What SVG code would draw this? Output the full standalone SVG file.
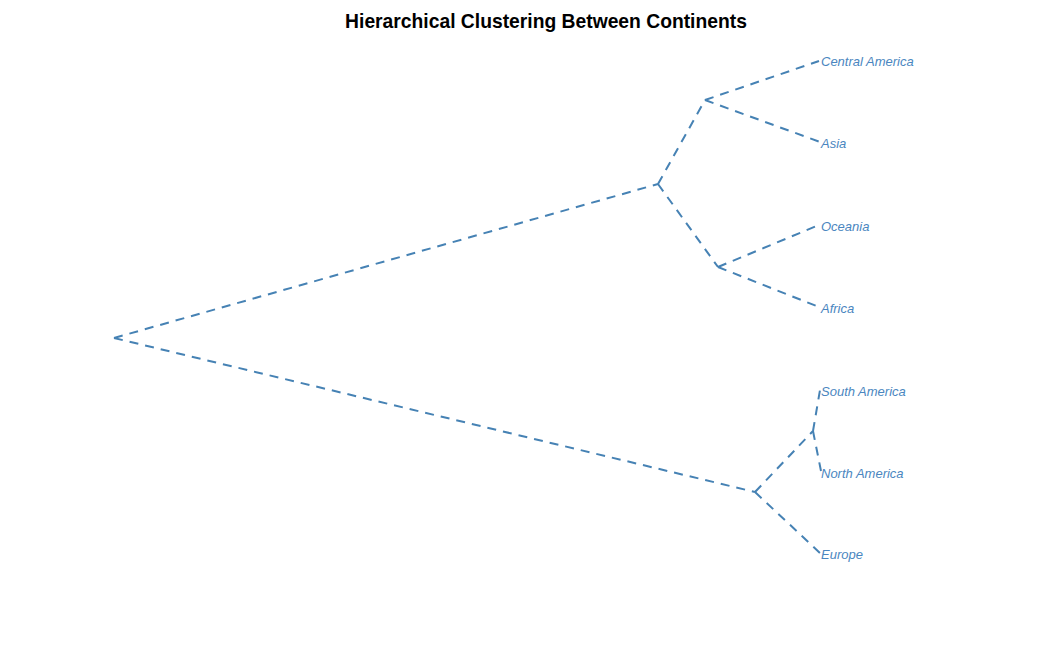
<svg xmlns="http://www.w3.org/2000/svg" width="1056" height="672" viewBox="0 0 1056 672">
<style>
.edge{fill:none;stroke:#4682B4;stroke-width:2;stroke-dasharray:9 7}
.lbl{font-family:"Liberation Sans",Arial,sans-serif;font-size:13px;font-style:italic;fill:#4a86c0}
.title{font-family:"Liberation Sans",Arial,sans-serif;font-size:19.3px;font-weight:bold;fill:#000}
</style>
<rect width="1056" height="672" fill="#fff"/>
<text class="title" x="546" y="27.5" text-anchor="middle">Hierarchical Clustering Between Continents</text>
<g id="connectors">
<line class="edge" x1="114" y1="338" x2="658" y2="184"/>
<line class="edge" x1="114" y1="338" x2="755" y2="492"/>
<line class="edge" x1="658" y1="184" x2="705" y2="100"/>
<line class="edge" x1="658" y1="184" x2="718" y2="267"/>
<line class="edge" x1="705" y1="100" x2="819" y2="61"/>
<line class="edge" x1="705" y1="100" x2="820" y2="142"/>
<line class="edge" x1="718" y1="267" x2="819" y2="225"/>
<line class="edge" x1="718" y1="267" x2="819" y2="307"/>
<line class="edge" x1="755" y1="492" x2="813" y2="431"/>
<line class="edge" x1="755" y1="492" x2="820" y2="553"/>
<line class="edge" x1="813" y1="431" x2="820" y2="390"/>
<line class="edge" x1="813" y1="431" x2="821" y2="471"/>
</g>
<g id="node-central-america"><text class="lbl" x="821" y="66">Central America</text></g>
<g id="node-asia"><text class="lbl" x="821" y="148">Asia</text></g>
<g id="node-oceania"><text class="lbl" x="821" y="231">Oceania</text></g>
<g id="node-africa"><text class="lbl" x="821" y="313">Africa</text></g>
<g id="node-south-america"><text class="lbl" x="821" y="396">South America</text></g>
<g id="node-north-america"><text class="lbl" x="821" y="478">North America</text></g>
<g id="node-europe"><text class="lbl" x="821" y="559">Europe</text></g>
</svg>
